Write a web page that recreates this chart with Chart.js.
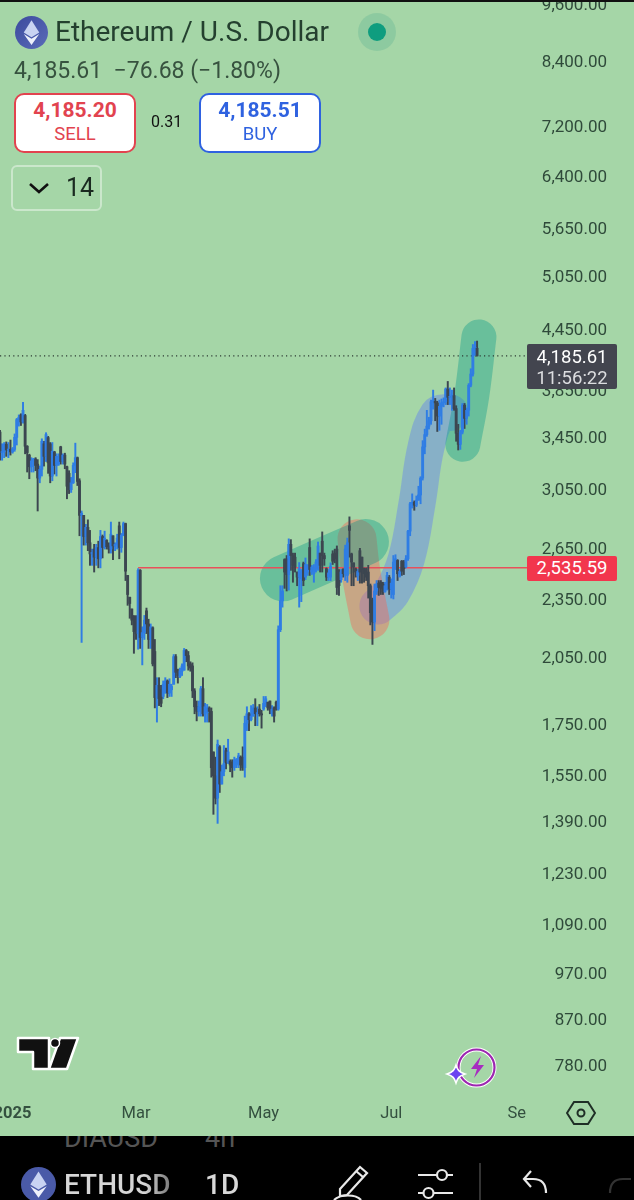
<!DOCTYPE html>
<html><head><meta charset="utf-8">
<script src="https://cdn.jsdelivr.net/npm/chart.js@4"></script>
<style>
html,body{margin:0;padding:0;background:#000;width:634px;height:1200px;overflow:hidden;font-family:Roboto,sans-serif}
#wrap{position:relative;width:634px;height:1200px;overflow:hidden}
#plot{position:absolute;left:0;top:0;width:634px;height:1136px;background:#a5d6a7}
canvas{display:block}
.o{position:absolute;white-space:nowrap;line-height:1}
.btn{position:absolute;background:#fff;border:2px solid;border-radius:10px;box-sizing:border-box;width:122px;height:60px;top:93px;text-align:center}
.btn b{display:block;font-size:21px;font-weight:700;margin-top:3px;line-height:24px}
.btn span{display:block;font-size:18.5px;line-height:22px;margin-top:1px}
.tag{position:absolute;left:527px;width:90px;border-radius:2px;color:#fff;font-size:18px;text-align:center}
</style></head><body>
<div id="wrap">
<div id="plot"><canvas id="c" width="634" height="1136"></canvas></div>
<div class="o" style="left:0;top:0;width:634px;height:2px;background:#111"></div>

<svg class="o" style="left:15px;top:16px" width="33" height="33" viewBox="0 0 32 32"><defs><linearGradient id="g" x1="0" y1="0" x2="1" y2="1"><stop offset="0" stop-color="#3c4a9e"/><stop offset="1" stop-color="#5a6bb8"/></linearGradient></defs><circle cx="16" cy="16" r="16" fill="url(#g)"/><path d="M16 4l7.5 12L16 20.5 8.5 16z" fill="#c9d3f2"/><path d="M16 22l7.5-4.5L16 28l-7.500-10.500z" fill="#eef1fb"/></svg>
<div class="o" style="left:55px;top:18px;font-size:28px;color:#24402f">Ethereum / U.S. Dollar</div>
<svg class="o" style="left:357px;top:12px" width="40" height="40"><circle cx="20" cy="20" r="19" fill="#00897b" fill-opacity=".14"/><circle cx="20" cy="20" r="9" fill="#0f9d7f"/></svg>
<div class="o" style="left:14px;top:59px;font-size:23px;color:#37523f">4,185.61&nbsp; −76.68 (−1.80%)</div>

<div class="btn" style="left:14px;border-color:#e2434f;color:#e2434f"><b>4,185.20</b><span>SELL</span></div>
<div class="o" style="left:151px;top:114px;font-size:16px;color:#111">0.31</div>
<div class="btn" style="left:199px;border-color:#2f62e0;color:#2f62e0"><b>4,185.51</b><span>BUY</span></div>

<div class="o" style="left:11px;top:165px;width:91px;height:46px;box-sizing:border-box;border:2px solid rgba(255,255,255,.42);border-radius:6px"></div>
<svg class="o" style="left:28px;top:181px" width="22" height="14"><path d="M2 3l9 8 9-8" fill="none" stroke="#111" stroke-width="2.6"/></svg>
<div class="o" style="left:66px;top:175px;font-size:25px;color:#1a2a20">14</div>

<div class="tag" style="top:344px;height:45px;background:#43454f"><div style="font-size:18.5px;line-height:22px;margin-top:2px">4,185.61</div><div style="font-size:18.5px;line-height:21px;color:#dcdde0">11:56:22</div></div>
<div class="tag" style="top:556px;height:25px;line-height:25px;font-size:18.5px;background:#f2364d">2,535.59</div>

<svg class="o" style="left:16px;top:1035px" width="64" height="36" viewBox="0 0 64 36"><path d="M2 3h31v31H17V17H2z M44 3h18L51 34H33z" fill="#111" stroke="#fff" stroke-width="2.5" stroke-linejoin="round"/><circle cx="39" cy="8" r="4.500" fill="#111" stroke="#fff" stroke-width="1.500"/></svg>

<svg class="o" style="left:444px;top:1046px" width="54" height="42" viewBox="0 0 54 42"><circle cx="32.500" cy="21.500" r="18" fill="none" stroke="#fff" stroke-width="4"/><circle cx="32.500" cy="21.500" r="18" fill="none" stroke="#9c27b0" stroke-width="2.200"/><path d="M37 10L27 23h6l-3 9 10-13h-6z" fill="#a72cc0"/><path d="M12 19c1.500 5 3 7 9 9-6 2-7.500 4-9 9-1.500-5-3-7-9-9 6-2 7.500-4 9-9z" fill="#6a44f0" stroke="#fff" stroke-width="1.500"/></svg>

<svg class="o" style="left:566px;top:1098px" width="30" height="30" viewBox="0 0 30 30"><path d="M8 4h14l7 11-7 11H8L1 15z" fill="none" stroke="#1f2f26" stroke-width="2"/><circle cx="15" cy="15" r="3.500" fill="none" stroke="#1f2f26" stroke-width="2"/></svg>

<div class="o" style="left:0;top:1136px;width:634px;height:64px;background:#000;overflow:hidden">
  <div class="o" style="left:64px;top:-11px;font-size:27px;color:#555">DIAUSD</div>
  <div class="o" style="left:205px;top:-11px;font-size:27px;color:#555">4h</div>
  <svg class="o" style="left:21px;top:31px" width="35" height="35" viewBox="0 0 32 32"><circle cx="16" cy="16" r="16" fill="#4a5aa8"/><path d="M16 4l7.500 12L16 20.500 8.500 16z" fill="#c9d3f2"/><path d="M16 22l7.500-4.500L16 28l-7.500-10.500z" fill="#eef1fb"/></svg>
  <div class="o" style="left:64px;top:35px;font-size:28px;font-weight:500;background:linear-gradient(90deg,#d6d6d6 75%,#777 100%);-webkit-background-clip:text;background-clip:text;color:transparent">ETHUSD</div>
  <div class="o" style="left:205px;top:35px;font-size:28px;font-weight:500;color:#d8d8d8">1D</div>
  <svg class="o" style="left:330px;top:26px" width="304" height="38" viewBox="0 0 304 38" fill="none" stroke="#e8e8e8" stroke-width="2.200">
    <path d="M10 27L30 5l7 6-20 22-7 1z"/><path d="M26 9l7 6"/><path d="M4 38c6-6 22-6 27 0"/>
    <path d="M88 13h35M88 31h35"/><circle cx="112" cy="13" r="5" fill="#000"/><circle cx="98.500" cy="31" r="5" fill="#000"/>
    <path d="M150 1v38" stroke="#444" stroke-width="1.500"/>
    <path d="M216 31c0-10-5-14-13-14h-8M201 9l-7 8 7 8"/>
    <path d="M280 31c0-10 5-14 13-14h8" stroke="#333"/>
  </svg>
</div>
</div>

<script>
const opens = [
3495,3330,3335,3397,3350,3357,3335,3355,3452,3600,
3640,3580,3635,3380,3310,3220,3265,3280,3240,3135,
3200,3400,3300,3450,3400,3150,3335,3230,3240,3375,
3260,3310,3220,3170,3050,3100,3230,3290,3115,2870,
2870,2730,2790,2690,2620,2650,2600,2660,2590,2730,
2660,2705,2670,2650,2735,2670,2680,2800,2660,2740,
2815,2490,2365,2300,2260,2230,2170,2520,2150,2175,
2290,2220,2140,2200,2080,1865,1920,1900,1870,1885,
1940,1885,1900,1925,2055,1985,1960,1985,1990,2085,
2060,2020,2010,1895,1825,1805,1825,1905,1795,1800,
1820,1805,1640,1550,1470,1660,1520,1565,1645,1600,
1605,1600,1580,1590,1595,1620,1620,1580,1755,1795,
1770,1785,1820,1795,1815,1795,1815,1840,1845,1850,
1795,1820,1845,1815,2190,2345,2585,2590,2495,2680,
2610,2600,2510,2480,2470,2560,2480,2510,2660,2510,
2500,2530,2570,2625,2700,2610,2530,2480,2480,2620,
2625,2650,2480,2465,2525,2500,2490,2800,2620,2565,
2530,2490,2640,2600,2530,2530,2510,2430,2350,2230,
2400,2445,2450,2440,2395,2410,2480,2410,2380,2570,
2580,2485,2575,2570,2540,2590,2765,2950,2960,2940,
2975,3012,3135,3375,3475,3545,3590,3755,3760,3745,
3630,3715,3745,3755,3870,3795,3795,3810,3695,3485,
3395,3495,3725,3610,3680,3905,4010,4260,4262];
const highs = [
3510,3400,3410,3415,3410,3430,3370,3480,3610,3640,
3650,3750,3645,3385,3317,3290,3285,3290,3275,3226,
3440,3420,3490,3460,3410,3410,3340,3320,3320,3380,
3320,3325,3225,3190,3140,3250,3405,3295,3130,2900,
2870,2810,2840,2770,2650,2680,2680,2700,2770,2740,
2765,2710,2690,2825,2735,2690,2745,2825,2750,2825,
2818,2490,2365,2300,2265,2265,2530,2525,2205,2265,
2305,2245,2220,2205,2140,1955,1955,1920,1940,1955,
1945,1950,1925,2065,2065,1995,2000,2020,2095,2090,
2080,2030,2025,1905,1850,1850,1915,1955,1840,1835,
1825,1820,1640,1620,1687,1665,1590,1665,1655,1690,
1610,1610,1620,1615,1635,1625,1660,1785,1825,1800,
1830,1835,1860,1825,1835,1810,1870,1870,1845,1850,
1830,1825,1850,2210,2430,2430,2590,2610,2715,2710,
2625,2625,2510,2567,2525,2570,2595,2555,2715,2550,
2555,2585,2695,2625,2760,2625,2535,2525,2565,2640,
2650,2670,2525,2525,2530,2675,2720,2860,2625,2565,
2535,2525,2655,2600,2535,2535,2550,2440,2360,2440,
2460,2460,2460,2450,2450,2508,2490,2470,2610,2615,
2585,2525,2580,2580,2610,2770,2960,3020,2970,3005,
3075,3145,3425,3520,3680,3620,3770,3860,3785,3760,
3770,3780,3790,3880,3940,3880,3860,3880,3720,3560,
3510,3740,3740,3700,3920,4060,4300,4330,4335];
const lows = [
3270,3270,3290,3300,3290,3310,3325,3340,3390,3545,
3550,3570,3320,3180,3130,3180,3180,3190,2900,3100,
3150,3225,3260,3170,3100,3115,3165,3150,3230,3240,
3240,3205,2985,3022,3030,3095,3175,3080,2735,2125,
2675,2675,2640,2550,2550,2510,2550,2535,2535,2595,
2650,2650,2625,2625,2585,2640,2650,2590,2630,2735,
2460,2320,2250,2215,2071,2140,2091,2095,2015,2140,
2170,2095,2095,2010,1820,1760,1830,1825,1860,1885,
1865,1870,1870,1925,1955,1930,1955,1965,1990,2030,
1990,1985,1865,1795,1765,1785,1785,1785,1760,1760,
1760,1545,1415,1450,1385,1490,1520,1550,1575,1595,
1565,1545,1570,1580,1580,1570,1570,1545,1725,1725,
1765,1785,1745,1745,1785,1735,1810,1825,1810,1795,
1785,1760,1810,1810,2180,2310,2415,2400,2405,2520,
2450,2510,2430,2310,2340,2430,2465,2490,2490,2495,
2450,2510,2520,2510,2510,2550,2460,2460,2460,2555,
2565,2380,2375,2450,2480,2460,2450,2600,2430,2430,
2480,2460,2445,2445,2450,2460,2360,2215,2115,2185,
2380,2375,2380,2380,2393,2405,2380,2360,2355,2525,
2460,2480,2490,2495,2535,2580,2735,2920,2905,2930,
2975,2950,3120,3320,3460,3520,3560,3690,3590,3500,
3510,3560,3710,3730,3730,3730,3680,3680,3420,3350,
3355,3480,3525,3560,3630,3890,3990,4190,4185];
const closes = [
3330,3335,3397,3350,3357,3335,3355,3452,3600,3620,
3580,3680,3380,3330,3220,3265,3280,3230,3135,3200,
3420,3300,3475,3250,3150,3340,3230,3300,3300,3260,
3310,3240,3075,3050,3100,3230,3290,3110,2870,2885,
2730,2790,2690,2620,2630,2600,2660,2590,2730,2660,
2720,2665,2650,2745,2670,2680,2720,2660,2740,2815,
2515,2380,2330,2240,2180,2170,2520,2150,2175,2240,
2220,2140,2205,2020,1865,1920,1860,1840,1925,1940,
1885,1925,1915,2055,1980,1965,1985,2010,2085,2060,
2010,2000,1895,1825,1805,1825,1905,1795,1825,1820,
1805,1580,1550,1470,1670,1520,1565,1595,1600,1640,
1590,1580,1610,1610,1625,1590,1580,1755,1795,1770,
1785,1820,1795,1800,1795,1790,1840,1860,1820,1815,
1815,1785,1815,2190,2345,2400,2510,2495,2680,2610,
2550,2540,2480,2530,2510,2460,2555,2545,2525,2540,
2530,2570,2670,2550,2610,2590,2480,2505,2545,2575,
2590,2420,2430,2510,2500,2650,2690,2770,2570,2540,
2510,2515,2510,2525,2500,2480,2430,2280,2230,2400,
2440,2420,2415,2395,2430,2490,2410,2445,2570,2590,
2500,2515,2515,2530,2590,2765,2950,2960,2940,2975,
3012,3135,3375,3475,3545,3590,3755,3760,3745,3630,
3715,3745,3755,3870,3795,3795,3810,3695,3485,3395,
3495,3725,3610,3680,3905,4010,4260,4262,4185];

const yTicks = [9600,8400,7200,6400,5650,5050,4450,3850,3450,3050,2650,2350,2050,1750,1550,1390,1230,1090,970,870,780];
const xTickDays = [6,65,126,187,247];
const xTickLabels = ['2025','Mar','May','Jul','Se'];
const lastPrice = 4185.61;
const levelPrice = 2535.59;
// highlighter strokes: day number and price at each stroke point
const greenA = [{x:135.2,y:2473},{x:174.9,y:2695}];
const greenB = [{x:228.9,y:4377},{x:225.5,y:3815},{x:221.2,y:3396}];
const orange = [{x:170.6,y:2715},{x:172.5,y:2508},{x:176.8,y:2242}];
const blue = [{x:180.6,y:2316},{x:187.3,y:2393},{x:194.2,y:2590},{x:199.3,y:2952},{x:203.6,y:3373},{x:209.3,y:3642},{x:215,y:3660}];

const UP='#2f7de4', DOWN='#3c4650';
const barColors = closes.map((c,i)=> c>=opens[i] ? UP : DOWN);
const band = (data,color,w)=>({type:'line',data,borderColor:color,borderWidth:w,borderCapStyle:'round',borderJoinStyle:'round',pointRadius:0,tension:.4,order:4,fill:false});
const noPad = s=>{s.paddingLeft=0;s.paddingRight=0;s.paddingTop=0;s.paddingBottom=0;};

new Chart(document.getElementById('c'),{
  type:'bar',
  data:{datasets:[
    {type:'bar',data:closes.map((c,i)=>({x:i,y:[opens[i],c]})),backgroundColor:barColors,barThickness:2.2,minBarLength:1,grouped:false,order:1},
    {type:'bar',data:highs.map((h,i)=>({x:i,y:[lows[i],h]})),backgroundColor:barColors,barThickness:1.3,grouped:false,order:2},
    {type:'line',data:[{x:66,y:levelPrice},{x:252,y:levelPrice}],borderColor:'#e8505a',borderWidth:1.7,pointRadius:0,order:3},
    {type:'line',data:[{x:0,y:lastPrice},{x:252,y:lastPrice}],borderColor:'#2c3b33',borderWidth:1.2,borderDash:[1.2,3.2],pointRadius:0,order:3},
    band(greenA,'rgba(0,150,136,.36)',46),
    band(greenB,'rgba(0,150,136,.36)',35),
    band(orange,'rgba(245,100,85,.42)',39),
    band(blue,'rgba(100,130,240,.45)',37)
  ]},
  options:{
    responsive:false,animation:false,devicePixelRatio:1,
    layout:{padding:0},
    plugins:{legend:{display:false},tooltip:{enabled:false}},
    scales:{
      x:{type:'linear',min:0,max:303,offset:false,grid:{display:false,drawTicks:false},border:{display:false},
        afterBuildTicks:s=>{s.ticks=xTickDays.map(v=>({value:v}));},
        afterFit:s=>{s.height=40;noPad(s);},
        ticks:{autoSkip:false,maxRotation:0,minRotation:0,padding:8,color:'#34503f',
          font:c=>({family:'Roboto',size:16.5,weight:(c.tick&&c.tick.value===6)?'700':'400'}),
          callback:v=>xTickLabels[xTickDays.indexOf(v)]}},
      y:{type:'logarithmic',position:'right',min:726.7,max:9714,grid:{display:false,drawTicks:false},border:{display:false},
        afterBuildTicks:s=>{s.ticks=yTicks.map(v=>({value:v}));},
        afterFit:s=>{s.width=0;noPad(s);},
        ticks:{mirror:true,padding:-27,labelOffset:1,autoSkip:false,color:'#2f4a3a',font:{family:'Roboto',size:17},
          callback:v=>v.toLocaleString('en-US',{minimumFractionDigits:2,maximumFractionDigits:2})}}
    }
  }
});
</script>
</body></html>
